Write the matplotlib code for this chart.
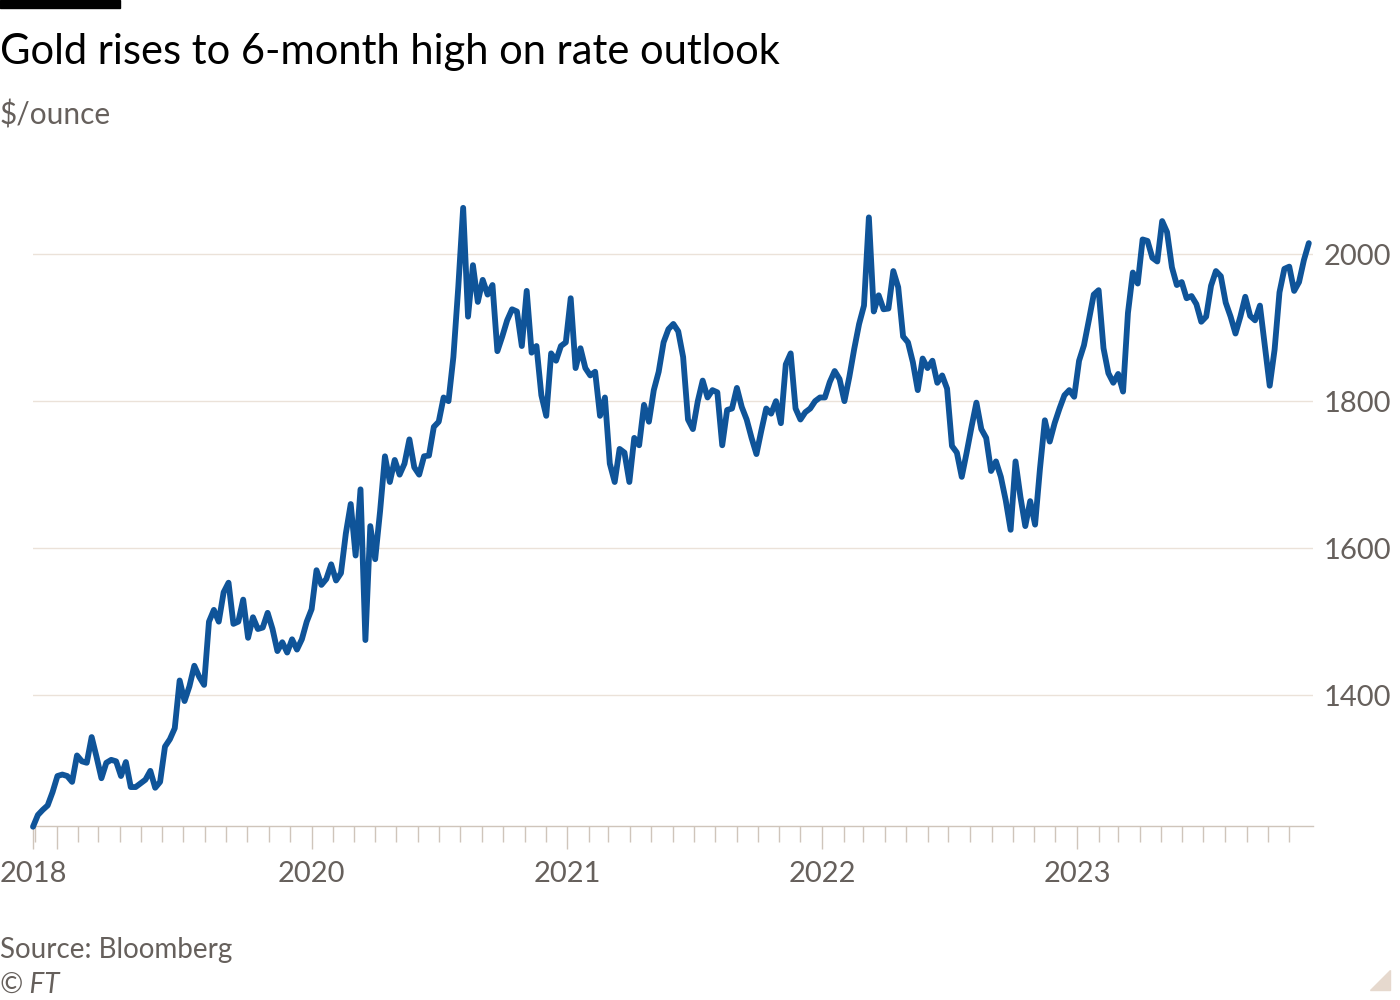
import matplotlib
matplotlib.use("Agg")
import matplotlib.pyplot as plt
import pandas as pd
from matplotlib.patches import Rectangle, Polygon

# ---------------- data (weekly, Wednesdays, $/ounce) ----------------
start_date = "2018-11-28"
price_2018 = [1221, 1237, 1244, 1250, 1268]
price_2019 = [1290, 1292, 1290, 1282, 1318, 1310, 1308, 1343, 1316, 1287,
              1308, 1312, 1310, 1290, 1309, 1275, 1275, 1280, 1285, 1297,
              1274, 1282, 1330, 1340, 1355, 1420, 1392, 1412, 1440, 1425,
              1414, 1500, 1516, 1500, 1540, 1553, 1497, 1500, 1530, 1478,
              1506, 1490, 1492, 1512, 1490, 1460, 1472, 1458, 1476, 1462,
              1476, 1500]
price_2020 = [1517, 1570, 1550, 1558, 1578, 1556, 1566, 1620, 1660, 1590,
              1680, 1475, 1630, 1585, 1650, 1725, 1690, 1720, 1700, 1715,
              1748, 1710, 1700, 1725, 1726, 1765, 1772, 1805, 1800, 1860,
              1955, 2063, 1915, 1985, 1935, 1965, 1945, 1958, 1868, 1888,
              1910, 1925, 1922, 1875, 1950, 1866, 1875, 1808, 1780, 1865,
              1855, 1875, 1880]
price_2021 = [1940, 1845, 1872, 1845, 1835, 1840, 1780, 1805, 1715, 1690,
              1735, 1730, 1690, 1750, 1740, 1795, 1772, 1815, 1840, 1880,
              1898, 1905, 1895, 1860, 1775, 1762, 1800, 1828, 1805, 1815,
              1812, 1740, 1788, 1790, 1818, 1792, 1775, 1750, 1728, 1760,
              1790, 1783, 1800, 1770, 1850, 1865, 1790, 1775, 1785, 1790,
              1800, 1805]
price_2022 = [1805, 1826, 1841, 1830, 1800, 1833, 1871, 1905, 1930, 2050,
              1922, 1944, 1925, 1926, 1977, 1955, 1888, 1880, 1853, 1815,
              1858, 1845, 1855, 1825, 1835, 1817, 1739, 1730, 1697, 1730,
              1765, 1798, 1762, 1750, 1705, 1718, 1697, 1665, 1625, 1718,
              1670, 1630, 1664, 1632, 1708, 1774, 1745, 1770, 1790, 1808,
              1815, 1806]
price_2023 = [1855, 1876, 1910, 1945, 1951, 1872, 1838, 1825, 1837, 1813,
              1920, 1975, 1960, 2020, 2018, 1995, 1990, 2045, 2030, 1982,
              1958, 1962, 1940, 1943, 1932, 1908, 1915, 1957, 1977, 1970,
              1934, 1915, 1892, 1915, 1942, 1916, 1910, 1930, 1875, 1821,
              1870, 1948, 1980, 1983, 1950, 1962, 1992, 2015]

prices = price_2018 + price_2019 + price_2020 + price_2021 + price_2022 + price_2023
dates = pd.date_range(start_date, periods=len(prices), freq="7D")

y_ticks = [1400, 1600, 1800, 2000]
major_x_ticks = [start_date, "2019-01-01", "2020-01-01", "2021-01-01",
                 "2022-01-01", "2023-01-01"]
major_x_labels = ["2018", "", "2020", "2021", "2022", "2023"]
minor_x_ticks = pd.date_range("2018-12-01", "2023-11-01", freq="MS")

title = "Gold rises to 6-month high on rate outlook"
subtitle = "$/ounce"
source = "Source: Bloomberg"
credit = "\u00a9 FT"

# ---------------- styling ----------------
FONT = ["Lato", "DejaVu Sans"]
plt.rcParams["font.family"] = FONT
LINE = "#0f5499"
GRID = "#ebe2d9"
AXIS = "#cfc5bb"
TEXT_GREY = "#66605c"

fig = plt.figure(figsize=(14, 10), dpi=100, facecolor="white")
ax = fig.add_axes([33 / 1400, 174 / 1000, 1280 / 1400, 638 / 1000])
ax.set_facecolor("white")

ax.plot(dates, prices, color=LINE, lw=4.2, solid_joinstyle="round",
        solid_capstyle="round", clip_on=False, zorder=3)

ax.set_ylim(1222, 2090)
ax.set_xlim(pd.Timestamp(start_date), pd.Timestamp("2023-12-05"))

for s in ["top", "left", "right"]:
    ax.spines[s].set_visible(False)
ax.spines["bottom"].set_color(AXIS)
ax.spines["bottom"].set_linewidth(1)

ax.set_yticks(y_ticks)
ax.set_yticklabels([str(v) for v in y_ticks])
ax.yaxis.tick_right()
ax.tick_params(axis="y", length=0, pad=8, labelsize=21, labelcolor=TEXT_GREY)
ax.grid(axis="y", color=GRID, lw=1)
ax.set_axisbelow(True)

ax.set_xticks([pd.Timestamp(d) for d in major_x_ticks])
ax.set_xticklabels(major_x_labels)
ax.set_xticks(minor_x_ticks, minor=True)
ax.tick_params(axis="x", which="major", length=16.5, width=1, color=AXIS,
               pad=9, labelsize=21, labelcolor=TEXT_GREY)
ax.tick_params(axis="x", which="minor", length=11.5, width=1, color=AXIS)

# ---------------- texts & decorations ----------------
fig.add_artist(Rectangle((0, 1 - 8 / 1000), 120 / 1400, 8 / 1000,
                         transform=fig.transFigure, color="black"))
fig.text(0.0, 1 - 64 / 1000, title, fontsize=30, color="#000000",
         va="baseline", ha="left")
fig.text(0.0, 1 - 124 / 1000, subtitle, fontsize=21.5, color=TEXT_GREY,
         va="baseline", ha="left")
fig.text(0.0, 1 - 958 / 1000, source, fontsize=20, color=TEXT_GREY,
         va="baseline", ha="left")
fig.text(0.0, 1 - 993 / 1000, credit, fontsize=20, color=TEXT_GREY,
         va="baseline", ha="left", style="italic")
fig.add_artist(Polygon([(1370 / 1400, 10 / 1000), (1390 / 1400, 10 / 1000),
                        (1390 / 1400, 30 / 1000)], closed=True,
                       transform=fig.transFigure, color="#e6d9ce"))

fig.savefig("out.png", dpi=100, facecolor="white")
